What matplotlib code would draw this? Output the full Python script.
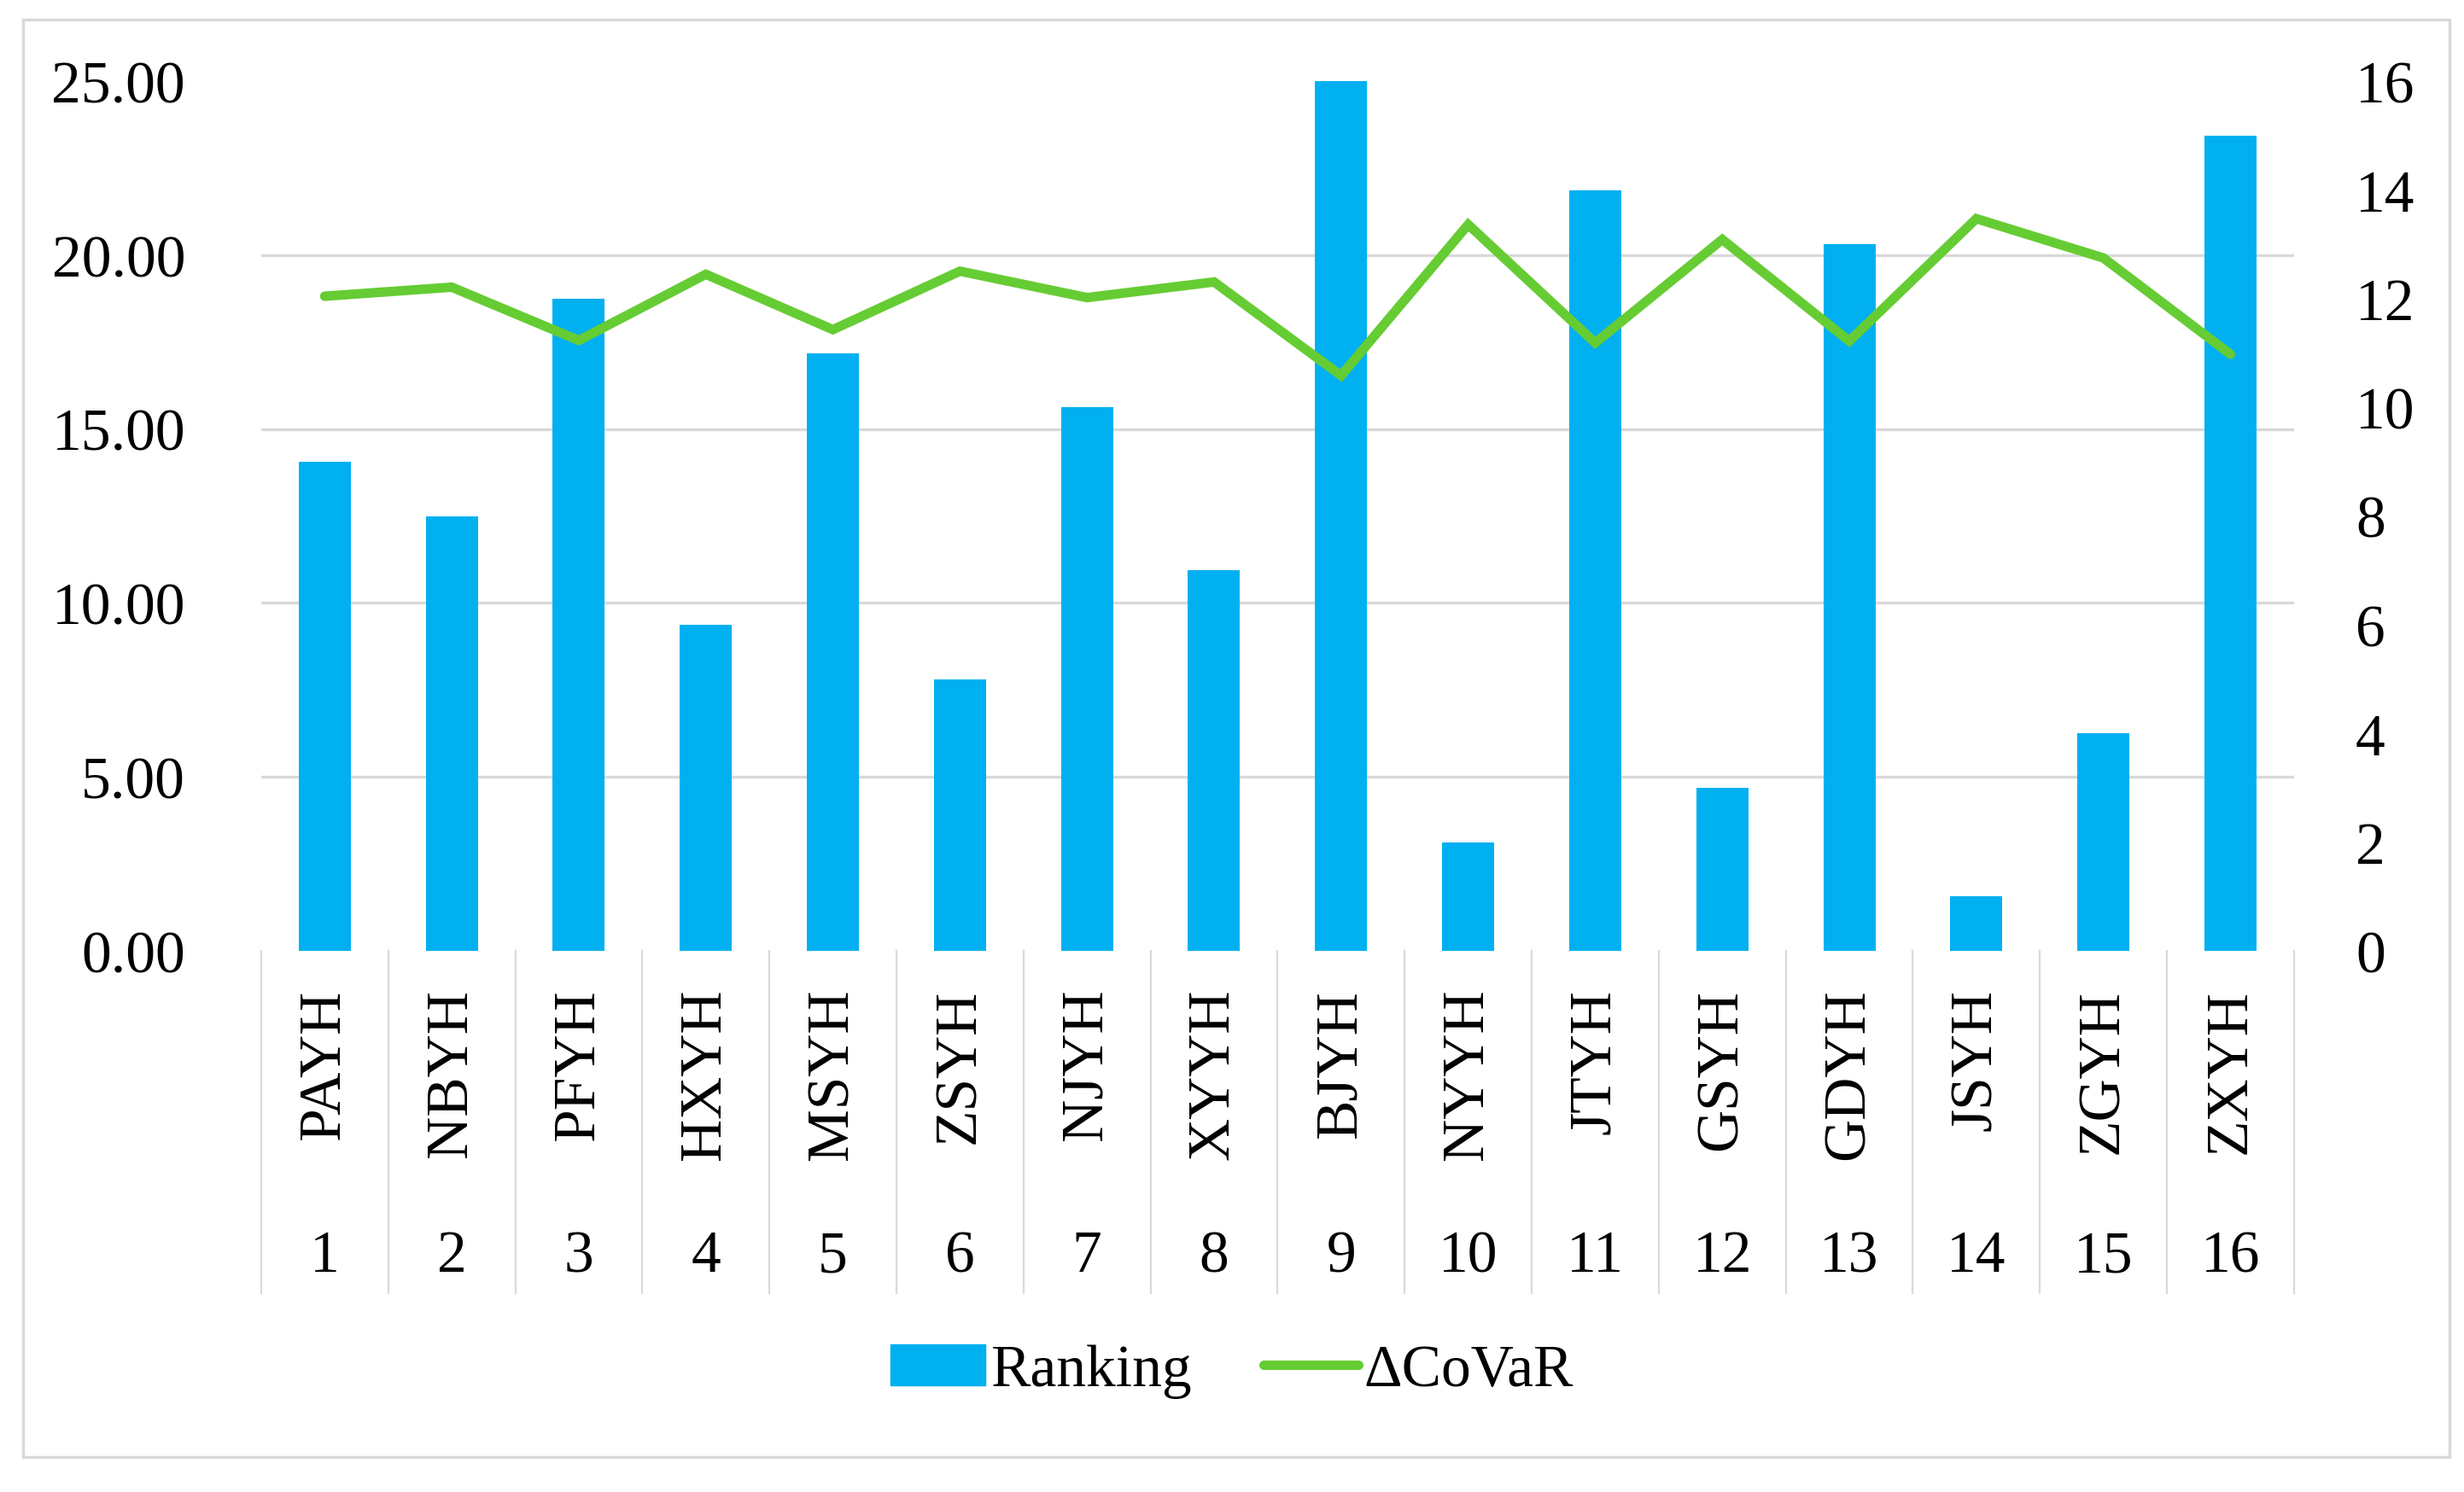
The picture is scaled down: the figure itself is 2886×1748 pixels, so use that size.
import matplotlib.pyplot as plt
from matplotlib.ticker import FixedLocator, FormatStrFormatter
from matplotlib.patches import Rectangle
from matplotlib.lines import Line2D

plt.rcParams['font.family'] = ['Liberation Serif', 'DejaVu Serif']

banks = ["PAYH", "NBYH", "PFYH", "HXYH", "MSYH", "ZSYH", "NJYH", "XYYH",
         "BJYH", "NYYH", "JTYH", "GSYH", "GDYH", "JSYH", "ZGYH", "ZXYH"]
numbers = [str(i) for i in range(1, 17)]
ranking = [9, 8, 12, 6, 11, 5, 10, 7, 16, 2, 14, 3, 13, 1, 4, 15]
covar = [18.82, 19.08, 17.55, 19.45, 17.86, 19.54, 18.78, 19.23,
         16.54, 20.88, 17.48, 20.45, 17.53, 21.05, 19.92, 17.15]

bar_color = '#00B0F0'
line_color = '#66CC33'
grid_color = '#D9D9D9'
fs = 50

fig = plt.figure(figsize=(28.86, 17.49), dpi=100)
ax = fig.add_axes([0.106, 0.3625, 0.825, 0.5825])
ax2 = ax.twinx()

x = list(range(len(banks)))

# bars on the right axis
ax2.bar(x, ranking, width=0.41, color=bar_color, zorder=2)
ax2.set_ylim(0, 16)
ax2.yaxis.set_major_locator(FixedLocator(range(0, 17, 2)))

# line on the left axis, drawn on top
ax.plot(x, covar, color=line_color, lw=8, solid_capstyle='round',
        solid_joinstyle='miter', zorder=3)
ax.set_ylim(0, 25)
ax.set_xlim(-0.5, len(banks) - 0.5)
ax.yaxis.set_major_locator(FixedLocator([0, 5, 10, 15, 20, 25]))
ax.yaxis.set_major_formatter(FormatStrFormatter('%.2f'))
ax.set_zorder(ax2.get_zorder() + 1)
ax.patch.set_visible(False)

# gridlines behind the bars, at the left axis ticks
ax2.yaxis.set_minor_locator(FixedLocator([v * 16 / 25 for v in ax.get_yticks()]))
ax2.grid(which='minor', axis='y', color=grid_color, lw=2.4, zorder=0)
ax2.set_axisbelow(True)

for a in (ax, ax2):
    for s in a.spines.values():
        s.set_visible(False)
    a.tick_params(axis='both', which='both', length=0, labelsize=fs)
ax.tick_params(axis='y', pad=64)
ax2.tick_params(axis='y', pad=52)
ax.set_xticks([])

# two-level category axis
tr = ax.get_xaxis_transform()
for i in range(len(banks) + 1):
    ax.plot([i - 0.5, i - 0.5], [0, -0.394], transform=tr, color=grid_color,
            lw=1.6, clip_on=False, zorder=1)
for i, (b, n) in enumerate(zip(banks, numbers)):
    ax.text(i, -0.043, b, transform=tr, rotation=90, ha='center', va='top',
            fontsize=fs)
    ax.text(i, -0.352, n, transform=tr, ha='center', va='center', fontsize=fs)

# outer frame
fig.patches.append(Rectangle((27 / 2886, 1 - 1708 / 1749), (2869 - 27) / 2886,
                             (1708 - 24) / 1749, transform=fig.transFigure,
                             fill=False, edgecolor=grid_color, lw=2.5))

handles = [Rectangle((0, 0), 1, 1, color=bar_color),
           Line2D([0], [0], color=line_color, lw=8, solid_capstyle='round')]
fig.legend(handles, ['Ranking', '\u0394CoVaR'], loc='center',
           bbox_to_anchor=(0.5, 0.081), ncol=2, frameon=False, fontsize=fs,
           handlelength=1.6, handletextpad=0.1, columnspacing=1.2)

fig.savefig('out.png', dpi=100)
